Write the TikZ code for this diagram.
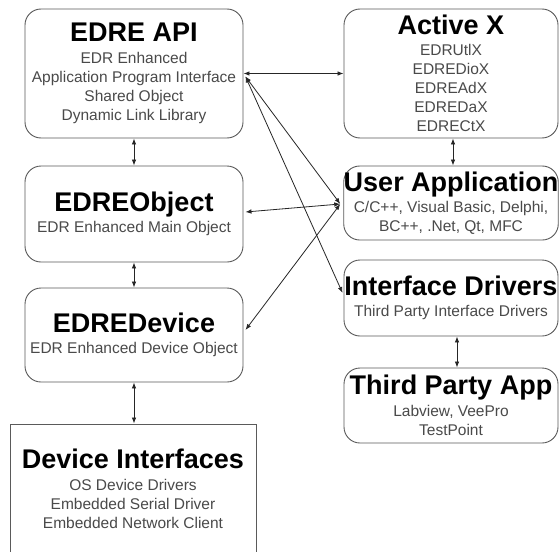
\documentclass[tikz,border=0pt]{standalone}
\usepackage{fontspec}
\setmainfont{Liberation Sans}
\usetikzlibrary{arrows.meta,calc}
\definecolor{subgray}{HTML}{4A4A4A}
\definecolor{edgegray}{HTML}{5A5A5A}
\newcommand{\ttl}[1]{{\fontsize{27}{27}\selectfont\bfseries\color{black}#1}\\[2.5pt]}
\begin{document}
\begin{tikzpicture}[x=1pt,y=-1pt,
  box/.style={draw=edgegray, line width=0.9pt, rounded corners=16pt, align=center,
    inner sep=0pt, text=subgray, font=\fontsize{15.5}{19}\selectfont},
  sqbox/.style={box, rounded corners=0pt},
  conn/.style={draw=black!85, line width=0.8pt,
    {Latex[length=6pt,width=4.5pt]}-{Latex[length=6pt,width=4.5pt]}}]
\useasboundingbox (0,0) rectangle (559,551);
\clip (0,0) rectangle (559,551);
\fill[white] (0,0) rectangle (559,551);

% left column
\node[box, minimum width=218pt, minimum height=129pt] (api) at (134,73.5)
  {\ttl{EDRE API}EDR Enhanced\\Application Program Interface\\Shared Object\\Dynamic Link Library};
\node[box, minimum width=218pt, minimum height=96pt] (obj) at (134,214)
  {\ttl{EDREObject}EDR Enhanced Main Object};
\node[box, minimum width=218pt, minimum height=94pt] (dev) at (134,335)
  {\ttl{EDREDevice}EDR Enhanced Device Object};
\node[sqbox, minimum width=246pt, minimum height=130pt] (dif) at (133,489)
  {\ttl{Device Interfaces}OS Device Drivers\\Embedded Serial Driver\\Embedded Network Client};

% right column
\node[box, minimum width=214pt, minimum height=129pt] (ax) at (451,73.5)
  {\ttl{Active X}EDRUtlX\\EDREDioX\\EDREAdX\\EDREDaX\\EDRECtX};
\node[box, minimum width=214pt, minimum height=74pt] (ua) at (451,203)
  {\ttl{User Application}C/C++, Visual Basic, Delphi,\\BC++, .Net, Qt, MFC};
\node[box, minimum width=214pt, minimum height=76pt] (idr) at (451,298)
  {\ttl{Interface Drivers}Third Party Interface Drivers};
\node[box, minimum width=214pt, minimum height=75pt] (tpa) at (451,405.5)
  {\ttl{Third Party App}Labview, VeePro\\TestPoint};

% junctions
\coordinate (j1) at ($(api.east)+(2,3)$);
\coordinate (j2) at ($(ua.west)+(-3,1)$);

% vertical connectors
\draw[conn] (api.south) -- (obj.north);
\draw[conn] (obj.south) -- (dev.north);
\draw[conn] (dev.south) -- (dif.north -| dev.south);
\draw[conn] ([xshift=2pt]ax.south) -- ([xshift=2pt]ua.north);
\draw[conn] ([xshift=6pt]idr.south) -- ([xshift=6pt]tpa.north);

% diagonal connectors
\draw[conn] (api.east) -- (ax.west);
\draw[conn] (j1) -- (j2);
\draw[conn] (j1) -- ($(idr.west)+(-1,-5)$);
\draw[conn] (j2) -- ($(obj.east)+(2,-2)$);
\draw[conn] (j2) -- ($(dev.east)+(2,-5)$);
\end{tikzpicture}
\end{document}
